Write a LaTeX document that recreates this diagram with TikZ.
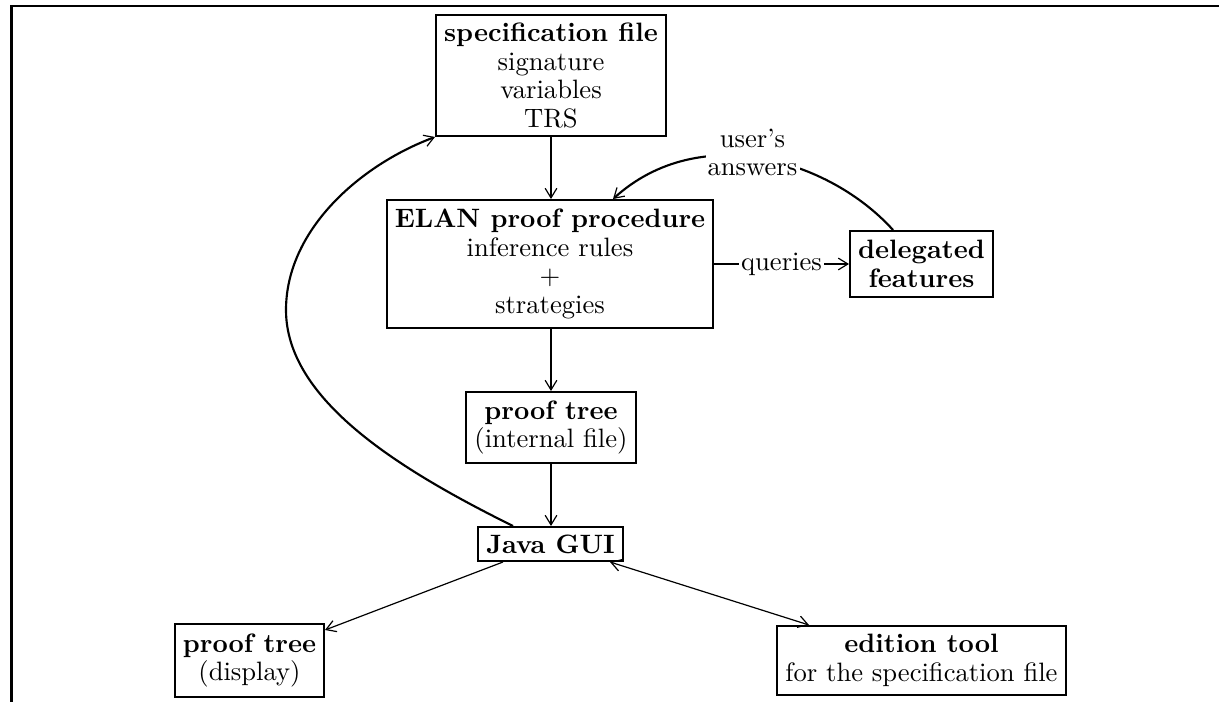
\documentclass[tikz,border=0pt]{standalone}
\usetikzlibrary{arrows.meta,calc}
\def\pxu{0.376pt}
\tikzset{
  box/.style={draw, line width=0.75pt, align=center, inner sep=2pt,
    font=\fontsize{10}{10.7}\selectfont},
  lbl/.style={fill=white, inner sep=0.8pt, align=center,
    font=\fontsize{10}{10.5}\selectfont},
  vtip/.style={-{Straight Barb[length=3.6pt,width=4.4pt,line width=0.45pt]}},
  vtips/.style={{Straight Barb[length=3.6pt,width=4.4pt,line width=0.45pt]}-{Straight Barb[length=3.6pt,width=4.4pt,line width=0.45pt]}},
  heavy/.style={vtip, line width=1pt},
  curve/.style={vtip, line width=0.8pt},
  thin/.style={line width=0.45pt},
}
\begin{document}
\begin{tikzpicture}[x=\pxu, y=-\pxu]
\useasboundingbox (0,0) rectangle (1219,702);
% frame
\draw[line width=1pt] (1219,6) -- (11.5,6) -- (11.5,702);

\node[box, minimum width=230*\pxu, minimum height=121*\pxu] (spec) at (551,75.5)
  {\textbf{specification file}\\signature\\variables\\TRS};
\node[box, minimum width=326*\pxu, minimum height=128*\pxu] (elan) at (550,264)
  {\textbf{ELAN proof procedure}\\inference rules\\$+$\\strategies};
\node[box, minimum width=143*\pxu, minimum height=66*\pxu] (deleg) at (921.5,264)
  {\textbf{delegated}\\\textbf{features}};
\node[box, minimum width=170*\pxu, minimum height=71*\pxu] (pti) at (551,427.5)
  {\textbf{proof tree}\\(internal file)};
\node[box, minimum width=145*\pxu, minimum height=34*\pxu] (gui) at (550.5,544)
  {\textbf{Java GUI}};
\node[box, minimum width=149*\pxu, minimum height=73*\pxu] (ptd) at (249.5,660.5)
  {\textbf{proof tree}\\(display)};
\node[box, minimum width=289*\pxu, minimum height=69*\pxu] (edit) at (921.5,660.5)
  {\textbf{edition tool}\\for the specification file};

% vertical flow
\draw[heavy] (spec.south) -- (spec.south |- elan.north);
\draw[heavy] (pti.north |- elan.south) -- (pti.north);
\draw[heavy] (pti.south) -- (pti.south |- gui.north);

% queries
\draw[vtip, line width=0.75pt] (elan.east) -- node[lbl] (q) {queries} (deleg.west);

% user's answers
\draw[curve] ([xshift=-28.5*\pxu]deleg.north) .. controls (830,160) and (700,120) .. ([xshift=63*\pxu]elan.north);
\node[lbl] (ua) at (752.5,152) {user's\\answers};

% back to specification file
\draw[curve] ([xshift=-37.5*\pxu]gui.north) .. controls (400,470) and (286,400) .. (286,310)
  .. controls (286,230) and (360,165) .. (spec.south west);

% bottom
\draw[vtip, thin] ([xshift=-47.5*\pxu]gui.south) -- ([yshift=-7*\pxu]ptd.north east);
\draw[vtips, thin] ([xshift=59.5*\pxu]gui.south) -- ([xshift=33*\pxu]edit.north west);
\end{tikzpicture}
\end{document}
